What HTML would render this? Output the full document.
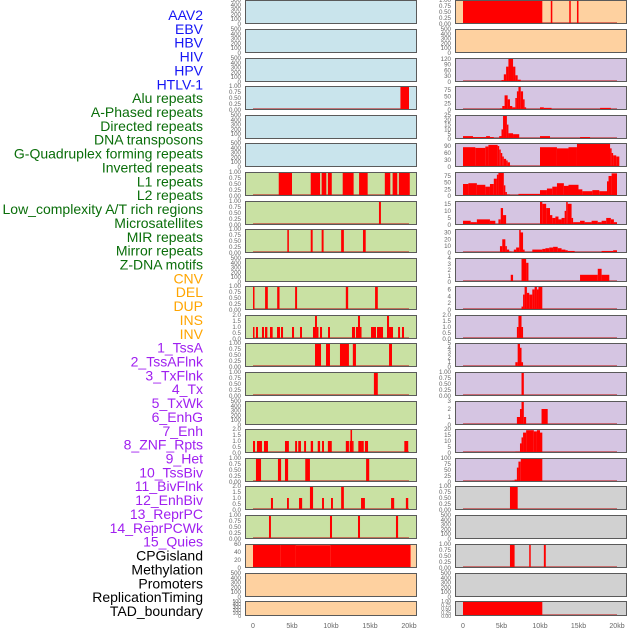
<!DOCTYPE html>
<html><head><meta charset="utf-8"><style>
html,body{margin:0;padding:0;background:#fff}
svg{display:block;font-family:"Liberation Sans",sans-serif}
</style></head><body>
<svg id="chart" width="630" height="630" viewBox="0 0 630 630" xmlns="http://www.w3.org/2000/svg"></svg>
<script>
const trackLabels=["AAV2","EBV","HBV","HIV","HPV","HTLV-1","Alu repeats","A-Phased repeats","Directed repeats","DNA transposons","G-Quadruplex forming repeats","Inverted repeats","L1 repeats","L2 repeats","Low_complexity A/T rich regions","Microsatellites","MIR repeats","Mirror repeats","Z-DNA motifs","CNV","DEL","DUP","INS","INV","1_TssA","2_TssAFlnk","3_TxFlnk","4_Tx","5_TxWk","6_EnhG","7_Enh","8_ZNF_Rpts","9_Het","10_TssBiv","11_BivFlnk","12_EnhBiv","13_ReprPC","14_ReprPCWk","15_Quies","CPGisland","Methylation","Promoters","ReplicationTiming","TAD_boundary"];
const labelGroups=[0,0,0,0,0,0,1,1,1,1,1,1,1,1,1,1,1,1,1,2,2,2,2,2,3,3,3,3,3,3,3,3,3,3,3,3,3,3,3,4,4,4,4,4];
const xTicks=[0,5,10,15,20];
const xTickLabels=["0","5kb","10kb","15kb","20kb"];
const leftBg=["b","b","b","b","b","b","g","g","g","g","g","g","g","g","g","g","g","g","g","p","p","p"];
const rightBg=["p","p","v","v","v","v","v","v","v","v","v","v","v","v","v","v","v","y","y","y","y","y"];
const leftYmax=[500,500,500,1,500,500,1,1,1,500,1,2,1,1,500,2,1,2,1,60,500,500];
const rightYmax=[1,500,125,90,25,103,90,17,35,4,7,2,5,1,3,20,100,1,500,1,500,1];
const leftTicks=[
["0","100","200","300","400","500"],["0","100","200","300","400","500"],["0","100","200","300","400","500"],["0.00","0.25","0.50","0.75","1.00"],["0","100","200","300","400","500"],["0","100","200","300","400","500"],
["0.00","0.25","0.50","0.75","1.00"],["0.00","0.25","0.50","0.75","1.00"],["0.00","0.25","0.50","0.75","1.00"],["0","100","200","300","400","500"],["0.00","0.25","0.50","0.75","1.00"],["0.0","0.5","1.0","1.5","2.0"],["0.00","0.25","0.50","0.75","1.00"],["0.00","0.25","0.50","0.75","1.00"],["0","100","200","300","400","500"],["0.0","0.5","1.0","1.5","2.0"],["0.00","0.25","0.50","0.75","1.00"],["0.0","0.5","1.0","1.5","2.0"],["0.00","0.25","0.50","0.75","1.00"],["0","20","40","60"],["0","100","200","300","400","500"],["0","100","200","300","400","500"]];
const rightTicks=[
["0.00","0.25","0.50","0.75","1.00"],["0","100","200","300","400","500"],["0","30","60","90","120"],["0","25","50","75"],["0","5","10","15","20","25"],["0","30","60","90"],["0","25","50","75"],["0","5","10","15"],["0","10","20","30"],["0","1","2","3","4"],["0","2","4","6"],["0.0","0.5","1.0","1.5","2.0"],["0","1","2","3","4","5"],["0.00","0.25","0.50","0.75","1.00"],["0","1","2","3"],["0","5","10","15","20"],["0","25","50","75","100"],["0.00","0.25","0.50","0.75","1.00"],["0","100","200","300","400","500"],["0.00","0.25","0.50","0.75","1.00"],["0","100","200","300","400","500"],["0.00","0.25","0.50","0.75","1.00"]];
// segments: [startKb, endKb, value]
const L1=[],L2=[],L3=[],L5=[],L6=[],L10=[],L15=[],L21=[],L22=[];
const L4=[[18.9,20,1]];
const L7=[[3.3,5,1],[7.4,8.6,1],[8.8,9.4,1],[9.6,10.1,1],[11.5,12.9,1],[13.6,14.7,1],[16.9,17.6,1],[17.9,18.5,1],[18.7,20.1,1]];
const L8=[[16.15,16.4,1]];
const L9=[[4.4,4.6,1],[7.4,7.65,1],[8.8,9.05,1],[11.3,11.65,1],[14.1,14.45,1]];
const L11=[[0,0.15,1],[1.55,1.9,1],[3.1,3.4,1],[5.4,5.65,1],[11.9,12.2,1],[15.65,16.0,1]];
const L12=[[0,0.13,1],[0.38,0.64,1],[1.15,1.41,1],[1.54,1.84,1],[2.18,2.52,1],[3.08,3.46,1],[3.59,3.85,1],[5.0,5.26,1],[6.03,6.28,1],[7.69,7.95,1],[7.95,8.2,2],[8.2,8.33,1],[8.59,8.85,1],[9.62,9.87,1],[12.69,13.08,1],[13.2,13.46,1],[13.46,13.72,2],[13.72,13.85,1],[15.13,15.77,1],[15.9,16.67,1],[17.18,17.44,2],[17.44,17.95,1],[18.6,18.85,1],[19.1,19.36,1]];
const L13=[[7.95,8.72,1],[9.36,9.87,1],[11.15,12.3,1],[12.8,13.2,1],[17.44,17.82,1]];
const L14=[[15.5,16.0,1]];
const L16=[[0,0.26,1],[0.51,1.15,1],[1.41,1.92,1],[4.1,4.6,1],[5.4,5.65,1],[5.8,6.15,1],[6.55,6.8,1],[7.4,7.7,1],[8.3,8.6,1],[8.85,9.1,1],[9.6,10.1,1],[11.9,12.3,1],[12.4,12.5,1],[12.5,12.7,2],[12.7,12.8,1],[13.5,13.85,1],[13.85,14.2,1],[14.35,14.75,1],[19.4,19.9,1]];
const L17=[[0.38,1.03,1],[3.2,3.6,1],[4.1,4.5,1],[6.7,7.3,1],[14.5,14.9,1]];
const L18=[[2.3,2.56,1],[4.36,4.6,1],[5.9,6.3,1],[7.3,7.7,2],[8.85,9.1,1],[10.0,10.25,1],[11.3,11.65,2],[13.85,14.35,1],[17.7,18.1,1],[19.6,19.9,1]];
const L19=[[2.05,2.3,1],[9.87,10.13,1],[13.46,13.72,1],[18.33,18.6,1]];
const L20=[[0,3.5,60],[3.5,5.5,59],[5.5,9.9,57],[9.9,20.2,60]];
const R1=[[0,10.3,1],[11.4,11.6,1],[13.8,13.9,1],[14.8,15,1]];
const R2=[],R19=[],R21=[];
const R3=[[5,5.3,10],[5.3,5.6,40],[5.6,5.9,80],[5.9,6.5,125],[6.5,6.8,80],[6.8,7.1,35],[7.1,7.5,12],[7.5,7.8,5],[8.5,9.1,4]];
const R4=[[4.8,5.1,5],[5.1,5.4,15],[5.4,5.8,55],[5.8,6.1,40],[6.1,6.4,15],[6.4,6.8,10],[6.8,7,45],[7,7.2,70],[7.2,7.5,88],[7.5,7.8,70],[7.8,8,40],[8,8.2,10],[8.6,8.9,3],[10,10.5,10],[10.5,11.5,8],[17.8,19.2,8],[19.2,19.4,3]];
const R5=[[0,1.3,3],[1.3,3,2],[3,3.5,3],[3.5,4,2],[4.7,5,3],[5,5.2,10],[5.2,5.7,25],[5.7,5.9,15],[5.9,6.5,6],[6.5,7.3,5],[10,11.3,3],[15.2,16.5,2]];
const R6=[[0,1.6,85],[1.6,2.9,82],[2.9,3.3,88],[3.3,4.5,95],[4.5,4.7,90],[4.7,4.9,75],[4.9,5.1,60],[5.1,5.3,45],[5.3,5.6,35],[5.6,5.8,28],[5.8,6.1,20],[6.1,6.3,5],[10,12.2,85],[12.2,13.7,80],[13.7,14.8,85],[14.8,19.1,103],[19.1,19.3,80],[19.3,19.5,60],[19.5,19.9,50],[19.9,20.3,45]];
const R7=[[0,0.7,45],[0.7,1.8,48],[1.8,2.9,42],[2.9,3.5,35],[3.5,4,45],[4,4.4,65],[4.4,4.6,80],[4.6,5.3,90],[5.3,5.5,40],[5.5,5.7,15],[5.7,6.1,5],[6.3,6.7,3],[7.2,10,8],[10,10.9,22],[10.9,11.6,28],[11.6,12.2,35],[12.2,13.1,48],[13.1,13.7,38],[13.7,15,42],[15,15.5,25],[15.5,16.8,18],[16.8,17.7,22],[17.7,18.7,18],[18.7,18.9,55],[18.9,19.3,75],[19.3,20,85]];
const R8=[[0,1,3],[1,1.8,2],[1.8,3.5,4],[3.5,4.2,3],[4.6,4.9,4],[4.9,5.2,12],[5.2,5.6,7],[10,10.3,17],[10.3,10.8,15],[10.8,11.3,12],[11.3,11.6,7],[11.6,12,5],[12,12.4,6],[12.4,12.8,4],[12.8,13.2,5],[13.2,13.4,10],[13.4,13.6,17],[13.6,14.1,15],[14.1,14.3,5],[14.3,15.2,2],[15.2,15.8,3],[15.8,16.7,2],[16.7,17.5,3],[17.5,18,2],[18,18.6,3],[18.6,19.2,5],[19.2,19.6,4],[19.6,20,2]];
const R9=[[4.8,5.1,10],[5.1,5.5,20],[5.5,5.7,10],[5.7,6,5],[6,6.3,2],[6.6,6.9,5],[6.9,7.3,8],[7.3,7.4,35],[7.4,7.8,30],[7.8,8,5],[9,10.3,5],[10.3,10.7,6],[10.7,11.2,7],[11.2,11.7,8],[11.7,12.3,9],[12.3,12.8,7],[12.8,13.3,5],[13.3,13.6,4],[13.6,14.5,3],[18,19.5,3],[19.5,20,4]];
const R10=[[6.2,6.5,1.2],[7.6,8.2,4],[8.2,8.5,3.2],[15.2,17.5,1.2],[17.5,18,2.2],[18,19,1.2]];
const R11=[[7.6,7.8,1],[7.8,8,4.5],[8,8.3,7],[8.3,8.6,5],[8.6,9,4.5],[9,9.3,6],[9.3,9.6,7],[9.6,9.8,6],[9.8,10.3,7]];
const R12=[[7.0,7.2,1],[7.2,7.6,2],[7.6,7.8,1]];
const R13=[[6.8,7.1,1],[7.1,7.4,5],[7.4,7.6,4],[7.6,7.8,1]];
const R14=[[7.6,7.9,1]];
const R15=[[7.0,7.4,1],[7.4,7.6,2],[7.6,7.9,3],[7.9,8.2,1],[10.2,11.0,2]];
const R16=[[6.8,7.4,1],[7.4,7.6,8],[7.6,7.8,13],[7.8,8.2,17],[8.2,9.2,19],[9.2,9.6,18],[9.6,10,19],[10,10.3,17]];
const R17=[[0,5.3,3],[6,6.4,3],[6.4,6.7,5],[6.7,7,10],[7,7.2,60],[7.2,7.5,85],[7.5,10.3,100],[10.3,20,3]];
const R18=[[6.1,7.1,1]];
const R20=[[6.1,6.7,1],[8.6,8.75,1],[10.5,10.75,1]];
const R22=[[0,10.3,1]];

const leftData=[L1,L2,L3,L4,L5,L6,L7,L8,L9,L10,L11,L12,L13,L14,L15,L16,L17,L18,L19,L20,L21,L22];
const rightData=[R1,R2,R3,R4,R5,R6,R7,R8,R9,R10,R11,R12,R13,R14,R15,R16,R17,R18,R19,R20,R21,R22];

const NS="http://www.w3.org/2000/svg";
const svg=document.getElementById('chart');
function mk(tag,attrs,parent){const e=document.createElementNS(NS,tag);for(const k in attrs)e.setAttribute(k,attrs[k]);(parent||svg).appendChild(e);return e;}
const rowTops=[0,29,58,86,115,143,172,201,229,258,286,315,343,372,401,429,458,486,515,544,573,601];
const bgColors={b:"#c9e4ec",g:"#c9e1a3",p:"#fed1a0",v:"#d5c5e2",y:"#d1d1d1"};
const groupColors=["#1515f5","#0a6e0a","#ffa500","#a020f0","#000000"];

// labels
trackLabels.forEach((t,i)=>{
  const el=mk('text',{x:203,y:20+i*13.86,'text-anchor':'end','font-size':'14',fill:groupColors[labelGroups[i]]});
  el.textContent=t;
  
  
});

function drawColumn(side,px0,pxW,x0,x20,data,ymax,ticks,bgs){
  const xs=kb=>x0+(x20-x0)*kb/20;
  const g=mk('g',{});
  
  
  rowTops.forEach((top,i)=>{
    const h=(i===rowTops.length-1)?15:24;
    const bottom=top+h;
    const ys=v=>bottom-h*v/ymax[i];
    const pg=mk('g',{},g);
    
    
    const bg=mk('rect',{x:px0,y:top,width:pxW,height:h,fill:bgColors[bgs[i]]},pg);
    
    
    const segs=data[i];
    if(segs.length){
      const base=mk('line',{x1:xs(0),x2:xs(20),y1:bottom-1,y2:bottom-1,stroke:'rgba(190,30,30,0.55)','stroke-width':2},pg);
      
      
    }
    segs.forEach(s=>{
      const v=Math.min(s[2],ymax[i]);
      const r=mk('rect',{x:xs(s[0]),y:ys(v),width:Math.max(1.5,xs(s[1])-xs(s[0])),height:bottom-ys(v),fill:'#ff0000'},pg);
      
      
    });
    const bd=mk('rect',{x:px0+0.5,y:top+0.5,width:pxW-1,height:h-1,fill:'none',stroke:'#5a5a5a','stroke-width':1},pg);
    
    
    const tk=ticks[i];
    tk.forEach(t=>{
      const val=parseFloat(t);
      const y=ys(val);
      const te=mk('text',{x:px0-4,y:y+2,'text-anchor':'end','font-size':(h<20?'5':'6.2'),fill:'#666'},pg);
      te.textContent=t;
      
      
    });
  });
  xTicks.forEach((k,j)=>{
    const te=mk('text',{x:xs(k),y:628,'text-anchor':'middle','font-size':'7',fill:'#666'},g);
    te.textContent=xTickLabels[j];
    
    
  });
}
drawColumn('left',245,172,253,409,leftData,leftYmax,leftTicks,leftBg);
drawColumn('right',455,172,463,617,rightData,rightYmax,rightTicks,rightBg);
</script>
</body></html>
